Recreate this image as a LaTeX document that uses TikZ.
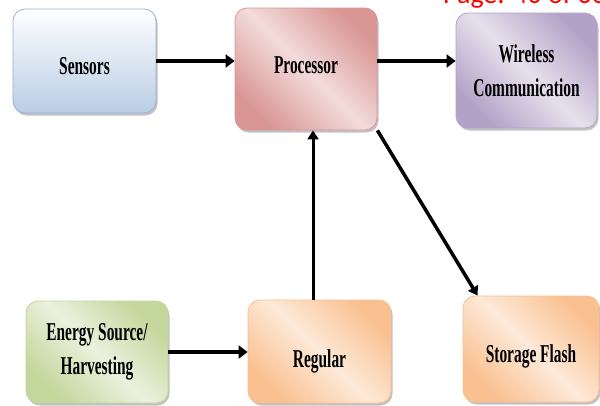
\documentclass[tikz,border=0pt]{standalone}
\usepackage{fontspec}
\setmainfont{Liberation Serif}
\setsansfont{Carlito}
\usepackage{graphicx}
\usetikzlibrary{arrows.meta,shadows}
\definecolor{sensblue}{HTML}{B9CDE5}
\definecolor{sensedge}{HTML}{95B3D7}
\definecolor{procdark}{HTML}{D99694}
\definecolor{proclight}{HTML}{F2DCDB}
\definecolor{wiredark}{HTML}{B3A2C7}
\definecolor{wirelight}{HTML}{E6E0EC}
\definecolor{energydark}{HTML}{C3D69B}
\definecolor{energylight}{HTML}{EBF1DE}
\definecolor{orangedark}{HTML}{FAC090}
\definecolor{orangelight}{HTML}{FDE9D9}
\newcommand{\cond}[1]{\scalebox{0.6}[1]{#1}}
\tikzset{
  block/.style={draw, rounded corners=12pt, line width=0.8pt, inner sep=0pt,
    font=\fontsize{25.7}{34}\selectfont\bfseries, align=center,
    drop shadow={shadow xshift=1.5pt, shadow yshift=-2.5pt, opacity=0.4, fill=black!60}},
  diagblock/.style 2 args={block, draw=#1, top color=#1, bottom color=#1, middle color=#2, shading angle=-45},
  link/.style={-{Triangle[length=9pt,width=13pt]}, line width=4.5pt},
  thinlink/.style={-{Triangle[length=9pt,width=11pt]}, line width=3pt},
}
\begin{document}
\begin{tikzpicture}[x=1pt, y=-1pt]
\useasboundingbox (0,0) rectangle (600,405);
\clip (0,0) rectangle (600,405);
\node[text=red, font=\sffamily\fontsize{28}{30}\selectfont, anchor=base west, inner sep=0pt] (pagenum) at (443,3) {Page: 40 of 60};
\node[block, draw=sensedge, top color=white, bottom color=sensblue, minimum width=143pt, minimum height=104pt, text height=26pt, text depth=0pt] (sensors) at (84.5,61) {\cond{Sensors}};
\node[diagblock={procdark}{proclight}, minimum width=142pt, minimum height=122pt, text height=17pt, text depth=9pt] (proc) at (306,69) {\cond{Processor}};
\node[diagblock={wiredark}{wirelight}, minimum width=141pt, minimum height=115pt] (wireless) at (526.5,70.5) {\cond{Wireless}\\\cond{Communication}};
\node[diagblock={energydark}{energylight}, minimum width=142pt, minimum height=102pt] (energy) at (97,352) {\cond{Energy Source/}\\\cond{Harvesting}};
\node[diagblock={orangedark}{orangelight}, minimum width=143pt, minimum height=103pt, text height=31pt, text depth=0pt] (regular) at (319.5,351.5) {\cond{Regular}};
\node[diagblock={orangedark}{orangelight}, minimum width=136pt, minimum height=106pt, text height=26pt, text depth=0pt] (storage) at (531,349) {\cond{Storage Flash}};
\draw[link] (sensors.east) -- (sensors.east -| proc.west);
\draw[link] (sensors.east -| proc.east) -- (sensors.east -| wireless.west);
\draw[link] (energy.east) -- (energy.east -| regular.west);
\draw[thinlink] ([xshift=-6.5pt]regular.north) -- ([xshift=-6.5pt]regular.north |- proc.south);
\draw[thinlink, line width=3.5pt] (proc.south east) -- ([xshift=15pt]storage.north west);
\end{tikzpicture}
\end{document}
